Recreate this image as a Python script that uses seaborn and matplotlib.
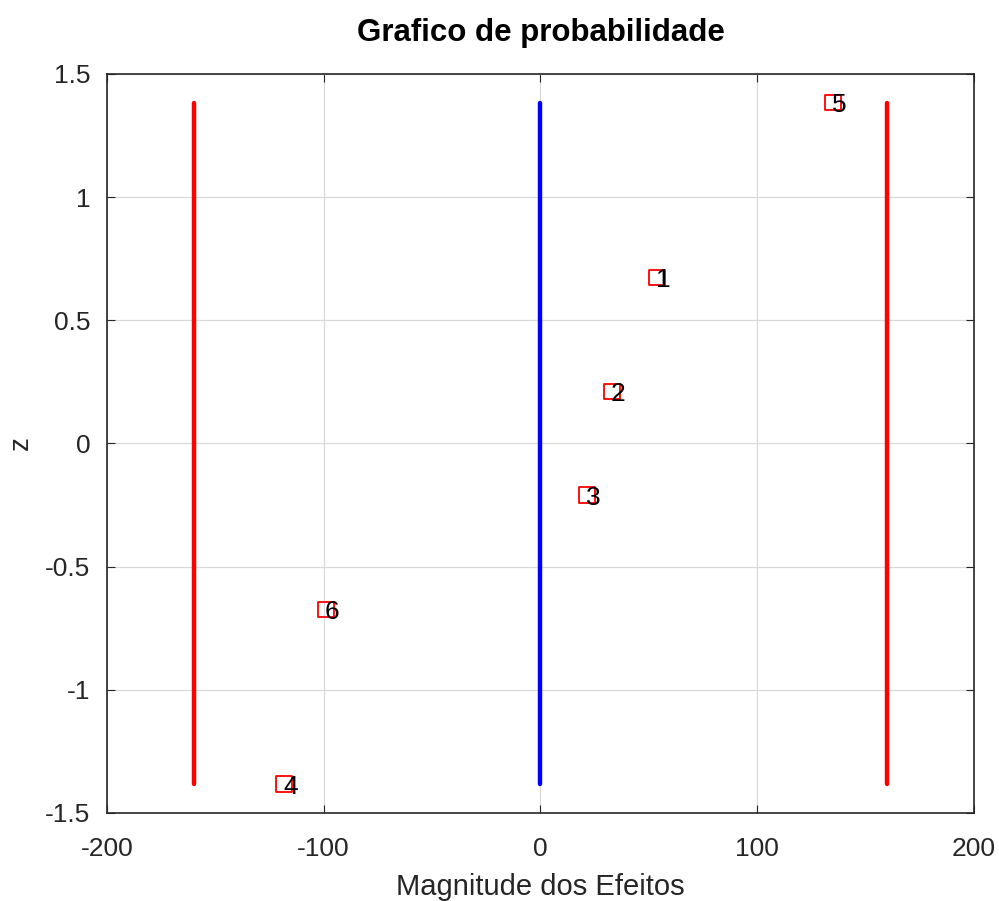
import matplotlib
matplotlib.use("Agg")
import matplotlib.pyplot as plt
import seaborn as sns
import pandas as pd
import numpy as np

labels = ["1", "2", "3", "4", "5", "6"]
effects = [53.7, 33.0, 21.5, -118.3, 135.0, -99.0]
z_values = [0.674, 0.210, -0.210, -1.383, 1.383, -0.674]

limit_x = [-160, 160]
center_x = [0]
line_z = [-1.383, 1.383]

xticks = [-200, -100, 0, 100, 200]
yticks = [-1.5, -1, -0.5, 0, 0.5, 1, 1.5]
ytick_labels = ["-1.5", "-1", "-0.5", "0", "0.5", "1", "1.5"]
xtick_labels = ["-200", "-100", "0", "100", "200"]

sns.set_style("white")
plt.rcParams['font.family'] = ['Liberation Sans', 'DejaVu Sans']
plt.rcParams['axes.unicode_minus'] = False

fig = plt.figure(figsize=(9.99, 9.01), dpi=100)
ax = fig.add_axes([0.107, 0.0977, 0.868, 0.8203])

df = pd.DataFrame({"efeito": effects, "z": z_values, "label": labels})

for xv in limit_x:
    ax.plot([xv, xv], line_z, color="#ff0000", lw=3.2, zorder=3)
for xv in center_x:
    ax.plot([xv, xv], line_z, color="#0000ff", lw=3.2, zorder=3)

sns.scatterplot(data=df, x="efeito", y="z", marker="s", s=125,
                facecolor="none", edgecolor="#ff0000", linewidth=1.3, ax=ax, zorder=4)
for _, r in df.iterrows():
    ax.text(r["efeito"] - 0.5, r["z"] - 0.01, r["label"], fontsize=19, color="black",
            ha="left", va="center", zorder=5)

ax.set_xlim(-200, 200)
ax.set_ylim(-1.5, 1.5)
ax.set_xticks(xticks)
ax.set_xticklabels(xtick_labels)
ax.set_yticks(yticks)
ax.set_yticklabels(ytick_labels)
ax.grid(True, color="#d9d9d9", lw=0.9)
ax.set_axisbelow(True)
for s in ax.spines.values():
    s.set_color("#262626")
    s.set_linewidth(1.2)
ax.tick_params(direction="in", length=6, color="#262626", labelsize=19,
               labelcolor="#262626", top=True, right=True,
               bottom=True, left=True, labeltop=False, labelright=False)
ax.tick_params(axis="x", pad=17)
ax.tick_params(axis="y", pad=12)
ax.set_xlabel("Magnitude dos Efeitos", fontsize=21, color="#262626", labelpad=9)
ax.set_ylabel("z", fontsize=20, color="#262626")
ax.yaxis.set_label_coords(-0.084, 0.5)
ax.set_title("Grafico de probabilidade", fontsize=22.5, fontweight="bold",
             color="black", pad=24)

fig.savefig("out.png", dpi=100)
